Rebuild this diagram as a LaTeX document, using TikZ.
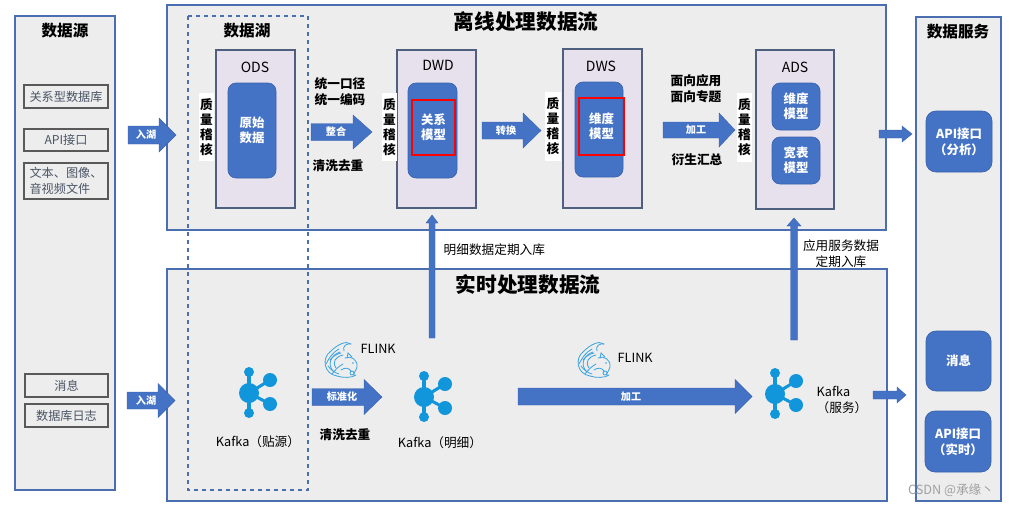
\documentclass[tikz,border=0pt]{standalone}
\usepackage{fontspec}
\setmainfont{Noto Sans CJK SC}
\usetikzlibrary{fit}
\definecolor{abl}{HTML}{4472C4}
\definecolor{abd}{HTML}{3A62AE}
\definecolor{bdr}{HTML}{4A6EB0}
\definecolor{panel}{HTML}{EDEDED}
\definecolor{laybd}{HTML}{4F5F7E}
\definecolor{layfill}{HTML}{E6E1EC}
\definecolor{kc}{HTML}{1296DB}
\definecolor{flc}{HTML}{3BA3E0}
\definecolor{srct}{HTML}{4A5464}
\definecolor{wm}{HTML}{A0A0A0}
\newcommand\blkH[6]{\fill[abl,draw=abd,line width=0.3pt] (#1,#3-#4) -- (#2-#6,#3-#4) -- (#2-#6,#3-#5) -- (#2,#3) -- (#2-#6,#3+#5) -- (#2-#6,#3+#4) -- (#1,#3+#4) -- cycle;}
\newcommand\blkV[6]{\fill[abl,draw=abd,line width=0.3pt] (#1-#4,#2) -- (#1-#4,#3+#6) -- (#1-#5,#3+#6) -- (#1,#3) -- (#1+#5,#3+#6) -- (#1+#4,#3+#6) -- (#1+#4,#2) -- cycle;}
\tikzset{
  kafka/.pic={
    \draw[kc,line width=2.3pt] (0,-21) -- (0,20);
    \draw[kc,line width=2.3pt] (0,0) -- (21,-13) (0,0) -- (21,11);
    \fill[kc] (0,0) circle[radius=10] (0,-21) circle[radius=5] (0,20) circle[radius=5]
      (21,-13) circle[radius=7] (21,11) circle[radius=7];
  },
  flink/.pic={
    \begin{scope}[flc,line width=0.6pt,line cap=round]
    \draw (14,36) .. controls (1,34) and (-2,18) .. (8,11) .. controls (14,5) and (23,0) .. (28,4);
    \draw (28,4) .. controls (24,3) and (19,6) .. (21,11);
    \draw (10,31) .. controls (4,24) and (8,15) .. (17,12);
    \draw (13,28) .. controls (9,22) and (12,17) .. (20,15);
    \draw (7,20) .. controls (10,16) and (14,14) .. (18,13);
    \draw (3,24) .. controls (6,18) and (10,12) .. (16,9);
    \draw (5,26) .. controls (8,30) and (12,33) .. (16,34);
    \draw (9,34) .. controls (12,30) and (16,26) .. (20,24);
    \draw (14,36) .. controls (20,38) and (29,38) .. (33,35);
    \draw (22,18) .. controls (28,15) and (35,20) .. (34,27) .. controls (33,31) and (30,33) .. (31,36);
    \draw (24,18) -- (25,13) -- (29,17);
    \draw (18,30) .. controls (22,27) and (26,28) .. (28,31);
    \draw (29,33) circle[radius=2];
    \fill (30,23) circle[radius=0.9];
    \end{scope}
  }
}
\begin{document}
\begin{tikzpicture}[x=0.75pt,y=-0.75pt,
  bigbox/.style={draw=bdr,fill=panel,line width=0.8pt},
  layer/.style={draw=laybd,fill=layfill,line width=0.8pt,inner sep=0pt},
  rbox/.style={draw=abd,fill=abl,rounded corners=6pt,inner sep=0pt,line width=0.5pt},
  redbox/.style={draw=red,line width=1.3pt,inner sep=0pt},
  wtxt/.style={text=white,font=\fontsize{9.3}{11.5}\selectfont\bfseries,align=center},
  srcbox/.style={draw=black!65,fill=panel,line width=1pt,inner sep=0pt},
  stxt/.style={text=srct,font=\fontsize{9.1}{11.5}\selectfont,inner sep=0pt},
  qc/.style={fill=white,inner sep=0pt},
  qtxt/.style={font=\fontsize{9.5}{11.2}\selectfont\bfseries,align=center,inner sep=0pt},
  ttl/.style={font=\fontsize{15.5}{18}\selectfont\bfseries},
  sub/.style={font=\fontsize{11.7}{14}\selectfont\bfseries},
  lay/.style={font=\fontsize{10.5}{12}\selectfont},
  btxt/.style={font=\fontsize{9.5}{12}\selectfont\bfseries,align=center},
  ntxt/.style={font=\fontsize{9.5}{12}\selectfont,align=center},
  atxt/.style={text=white,font=\fontsize{7.6}{9}\selectfont\bfseries},
  svc/.style={draw=abd,fill=abl,rounded corners=7.5pt,inner sep=0pt,line width=0.5pt},
  svtxt/.style={text=white,font=\fontsize{9.3}{12}\selectfont\bfseries,align=center}
]
\useasboundingbox (0,0) rectangle (1012,508);
\fill[white] (0,0) rectangle (1012,508);

% ---------- panels
\node[bigbox,inner sep=0pt,fit={(15,16)(115,490)}] (src) {};
\node[sub] (srct) at (65,31) {数据源};
\node[bigbox,inner sep=0pt,fit={(167,5)(886,230)}] (off) {};
\node[bigbox,inner sep=0pt,fit={(167,269)(887,501)}] (rt) {};
\node[bigbox,inner sep=0pt,fit={(916,17)(1001,501)}] (svc) {};
\node[sub] (svct) at (958,32) {数据服务};
\node[ttl] (offt) at (526,22) {离线处理数据流};
\node[ttl] (rtt) at (528,285) {实时处理数据流};
\draw[bdr,dashed,line width=0.8pt] (188,16) rectangle (308,490);
\node[sub] (lake) at (247,31) {数据湖};

% ---------- source boxes
\node[srcbox,fit={(24,85)(108,108)}] (s1) {};
\node[stxt] (s1t) at (s1.center) {关系型数据库};
\node[srcbox,fit={(24,129)(108,151)}] (s2) {};
\node[stxt] (s2t) at (s2.center) {API接口};
\node[srcbox,fit={(24,163)(108,199)}] (s3) {};
\node[stxt,align=left] (s3t) at (s3.center) {文本、图像、\\音视频文件};
\node[srcbox,fit={(25,374)(108,397)}] (s4) {};
\node[stxt] (s4t) at (s4.center) {消息};
\node[srcbox,fit={(25,404)(108,427)}] (s5) {};
\node[stxt] (s5t) at (s5.center) {数据库日志};

% ---------- layers
\node[layer,fit={(216,50)(295,208)}] (ods) {};
\node[lay] (odst) at (255,67) {ODS};
\node[rbox,fit={(228,83)(276,178)}] (raw) {};
\node[wtxt] (rawt) at (raw.center) {原始\\数据};
\node[qc,fit={(199,93)(214,161)}] (q1) {};
\node[qtxt] (q1t) at (q1.center) {质\\量\\稽\\核};

\node[layer,fit={(397,50)(476,208)}] (dwd) {};
\node[lay] (dwdt) at (438,65) {DWD};
\node[rbox,fit={(408,83)(457,178)}] (dwdi) {};
\node[redbox,fit={(412,100)(455,155)}] (rel) {};
\node[wtxt] (relt) at (rel.center) {关系\\模型};
\node[qc,fit={(382,93)(397,161)}] (q2) {};
\node[qtxt] (q2t) at (q2.center) {质\\量\\稽\\核};

\node[layer,fit={(563,49)(642,208)}] (dws) {};
\node[lay] (dwst) at (601,66) {DWS};
\node[rbox,fit={(575,82)(623,177)}] (dwsi) {};
\node[redbox,fit={(579,98)(624,155)}] (dim) {};
\node[wtxt] (dimt) at (dim.center) {维度\\模型};
\node[qc,fit={(545,92)(561,161)}] (q3) {};
\node[qtxt] (q3t) at (q3.center) {质\\量\\稽\\核};

\node[layer,fit={(756,50)(834,209)}] (ads) {};
\node[lay] (adst) at (795,67) {ADS};
\node[rbox,fit={(772,83)(820,130)}] (adsa) {};
\node[wtxt] (adsat) at (adsa.center) {维度\\模型};
\node[rbox,fit={(772,137)(820,184)}] (adsb) {};
\node[wtxt] (adsbt) at (adsb.center) {宽表\\模型};
\node[qc,fit={(737,93)(752,162)}] (q4) {};
\node[qtxt] (q4t) at (q4.center) {质\\量\\稽\\核};

% ---------- top arrows
\blkH{128}{176}{135}{9}{17}{17}
\node[atxt] (a1) at (146,135) {入湖};
\blkH{311}{372}{132}{8.5}{17}{19}
\node[atxt] (a2) at (336,132) {整合};
\blkH{482}{541}{130.5}{8.5}{17.5}{18}
\node[atxt] (a3) at (506,130.5) {转换};
\blkH{663}{735}{130}{8}{17}{16}
\node[atxt] (a4) at (696,130) {加工};
\blkH{879}{912}{134}{4}{8}{10}

\node[btxt] (u1) at (340,92) {统一口径\\统一编码};
\node[btxt] (u2) at (338,166) {清洗去重};
\node[btxt] (u3) at (696,89) {面向应用\\面向专题};
\node[btxt] (u4) at (697,160) {衍生汇总};

% ---------- vertical arrows
\blkV{432}{338}{215}{3}{6}{8}
\node[ntxt,anchor=west] (m1) at (439,250) {明细数据定期入库};
\blkV{794}{340}{218}{3.5}{7}{8}
\node[ntxt] (m2) at (841,254) {应用服务数据\\定期入库};

% ---------- realtime row
\blkH{127}{175}{400.5}{8.5}{17}{17}
\node[atxt] (b1) at (146,400.5) {入湖};
\blkH{312}{382}{397}{8.5}{17.5}{18}
\node[atxt] (b2) at (342,397) {标准化};
\blkH{518}{752}{396.5}{8.5}{17}{17}
\node[atxt] (b3) at (631,396.5) {加工};
\blkH{873}{906}{395}{4}{8}{9}

\pic at (249,393) {kafka};
\node[ntxt] (k1) at (258,442) {Kafka（贴源）};
\pic at (424,397) {kafka};
\node[ntxt] (k2) at (440,443) {Kafka（明细）};
\pic at (775,394) {kafka};
\node[ntxt,align=left,anchor=west] (k3) at (812,400) {Kafka\\（服务）};

\pic at (323,340) {flink};
\node[ntxt,anchor=west] (f1) at (356,349) {FLINK};
\pic at (576,340) {flink};
\node[ntxt,anchor=west] (f2) at (613,358) {FLINK};
\node[btxt] (c2) at (345,435) {清洗去重};

% ---------- services
\node[svc,fit={(926,111)(992,172)}] (api1) {};
\node[svtxt] (api1t) at (api1.center) {API接口\\（分析）};
\node[svc,fit={(926,331)(991,391)}] (msg) {};
\node[svtxt] (msgt) at (msg.center) {消息};
\node[svc,fit={(925,411)(991,472)}] (api2) {};
\node[svtxt] (api2t) at (api2.center) {API接口\\（实时）};

\node[text=wm,font=\fontsize{9.5}{11}\selectfont] (wmk) at (951,490) {CSDN @承缘丶};
\end{tikzpicture}
\end{document}
